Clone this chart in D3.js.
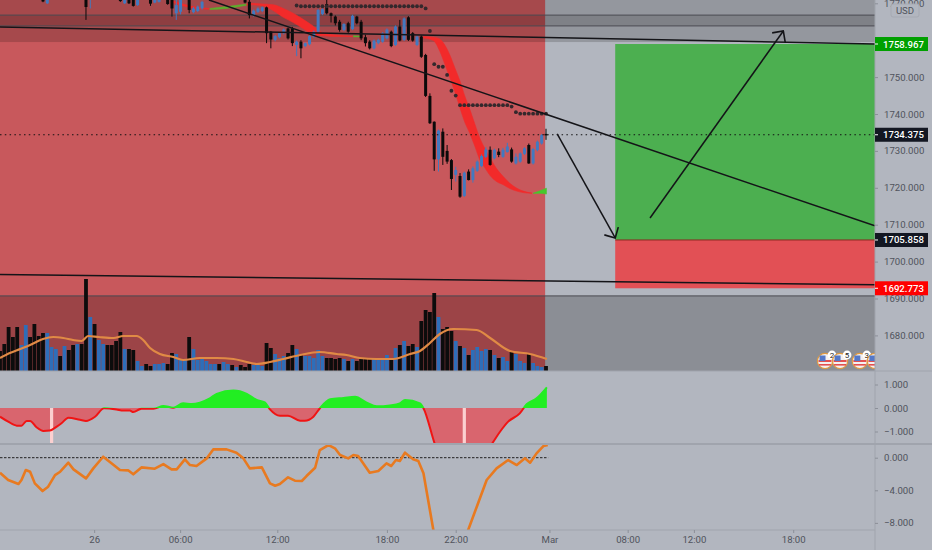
<!DOCTYPE html>
<html>
<head>
<meta charset="utf-8">
<script src="https://cdn.jsdelivr.net/npm/d3@7/dist/d3.min.js"></script>
<style>
    html, body { margin: 0; padding: 0; background: #b2b6bf; }
    svg { display: block; }
    text { font-family: Roboto, sans-serif; }
</style>
</head>
<body>
<svg width="932" height="550"></svg>
<script>
// bar direction, one letter per bar: d = black, u = blue
const barDirection = ("ddddduuddd" + "duuududdud" + "duduuddddu" + "dduudduuud" + "duuuduuuuu" +
    "uduududddu" + "uudduuuddu" + "duuuuudddd" + "ududdddu" + "uu" + "udududdudd" +
    "ddudddudud" + "uuuududuud" + "uuuduuud").split("");

const volume = [20,27,44,34,44,26,46,34,47,35, 38,38,24,22,15,25,21,26,27,27,
    92,54,47,31,27,26,26,30,39,22, 22,21,10,5,7,5,7,7,8,7,
    18,17,12,11,34,22,11,12,10,7, 7,7,9,7,6,4,6,4,7,6,
    6,5,28,23,17,13,15,18,26,22, 17,15,15,13,21,15,13,13,12,13,
    12,10,12,10,12,12,12,12,11,11, 16,12,23,26,30,25,27,24,50,61,
    59,78,54,42,44,40,30,25,23,16, 21,24,20,22,21,16,13,14,10,19,
    17,10,8,18,8,5,4,5];

const volumeMaIndex = [0,2.3,4.7,7,10,12.4,14.7,17,19,20.5,23,26.4,28.7,31.8,33.3,34.9,37.2,40.3,42.6,46.5,50.4,54.3,57.4,59.7,62.8,65.9,69.8,74.4,78.3,80.6,83.7,87.6,91.5,95.4,97.7,100,102.3,105.4,110.9,114,118.6,123.3,127.2];
const volumeMaValue = [13,18,22,26,32,34,33,31,30,35,34,33,35,35,31,23,17,14,11,13,13,12,9,7,9,12,16,19,17,16,13,12,12,17,20,28,37,42,41,33,20,17,12];

// candles that fall inside the visible price range
const candleIndex = [10,11,20,21,28,29,30,31,32,35,36,37,39,40,41,42,44,45,46,47,57,58].concat(d3.range(59, 128));
const candleTop = [1775,1775,1775,1775,1775,1775,1775,1775,1775,1775,1775,1775,1775,1775,1769.5,1775,1775,1768.6,1769.1,1770.4,1775,1770.4,
    1768,1768.6,1768.9,1768.9,1762.3,1761.1,1761.9,1762.9,1763.2,1763.2,
    1759.6,1759.6,1759.2,1761.1,1762.3,1768.2,1768.4,1769.8,1767.3,1766.4,
    1765,1764.4,1764.6,1766.6,1766.4,1765,1760.8,1759.6,1759.9,1760.1,
    1761.9,1762.9,1762.3,1763.7,1763.7,1765.9,1766.2,1761.9,1761,1761,
    1756,1744.9,1737.9,1735.5,1735.2,1730,1727.5,1724.8,1723.2,1724.1,
    1724.4,1725.3,1727.1,1728.6,1730.4,1730.3,1730.3,1729.8,1730.3,1731.2,
    1730.4,1728.4,1729.3,1730.7,1731.6,1730.5,1732.5,1734.3,1734.6];
const candleBottom = [1770.5,1770,1769,1772,1770.6,1770,1770,1769.3,1769.5,1769.9,1770.2,1770.4,1769.8,1768.6,1767.3,1767.7,1768.2,1767.6,1767.9,1768.6,1770.2,1766.8,
    1766.7,1767.7,1767.9,1761.9,1760.2,1760.1,1760.8,1761.9,1760.5,1759.2,
    1758.7,1757.8,1758.4,1758.9,1761,1762.3,1767.1,1767.3,1766.6,1764.6,
    1762.8,1762.8,1762.3,1763,1764.6,1760.5,1759.2,1757.8,1757.8,1759.2,
    1759.6,1760.5,1758.4,1758.7,1759.9,1760.1,1760.1,1759.9,1758.7,1755.5,
    1744.9,1737.5,1727.7,1727.7,1728.4,1727.1,1722.4,1723.5,1717.6,1717.8,
    1722.1,1722.1,1724.6,1725.9,1728.4,1726.2,1728,1728.9,1728.4,1729.7,
    1727.1,1726.6,1727.1,1729.2,1726.6,1726.6,1730.2,1732,1734.2];
const candleHigh = [1776,1776,1776,1776,1776,1776,1776,1776,1776,1776,1776,1776,1776,1776,1771,1776,1776,1769,1769.4,1770.7,1776,1771,
    1768.3,1768.9,1769.1,1769.1,1762.5,1761.4,1762.2,1763.2,1763.4,1763.6,
    1759.9,1760,1759.4,1761.3,1762.6,1768.5,1768.7,1771,1767.5,1766.7,
    1765.5,1764.6,1765,1766.9,1766.6,1765.5,1761.5,1760,1760.2,1760.4,
    1762.2,1763.2,1762.6,1764,1765.5,1766.2,1766.5,1762.2,1761.3,1761.3,
    1756.3,1745.6,1738,1735.8,1736.1,1731.6,1727.8,1725.7,1724,1724.4,
    1725,1725.8,1727.4,1729,1731,1731.2,1730.6,1730.7,1730.8,1732.2,
    1730.9,1729.3,1729.6,1731,1732,1730.8,1732.8,1734.6,1736];
const candleLow = [1770.3,1769.8,1765.5,1768.6,1770.4,1769.8,1769.8,1769.1,1769.3,1769.3,1770,1770.2,1769.6,1766.4,1765.5,1767,1767.3,1767.3,1767.6,1768.3,1770,1765.9,
    1766.4,1767.4,1767.6,1759.2,1757.8,1759.7,1760.5,1761.6,1760.2,1758.4,
    1755.7,1755.1,1758.1,1758.6,1760.7,1762,1766.8,1767,1764.8,1764,
    1762.3,1762.5,1762,1762.7,1764.3,1760,1758.3,1757.5,1757.5,1758.9,
    1759.3,1760.2,1758.1,1758.4,1759.7,1759.8,1759.8,1759.6,1758.4,1755.2,
    1744.6,1737.3,1724.6,1724.4,1726.2,1726.5,1719.4,1721.7,1717.3,1717.5,
    1722,1721.4,1724.3,1725.6,1728.1,1726,1727.7,1728.3,1728.1,1729.5,
    1726.8,1726.3,1726.8,1728.9,1726.5,1726.3,1729.9,1731.7,1733];

// moving average ribbon, each row is bar index, upper price, lower price
const ribbonRedA = [[40.3,1770.6,1770.2],[42.6,1769.8,1769.3],[45.7,1768.9,1768.6],[48.8,1768.6,1768.4]];
const ribbonGreenA = [[48.8,1768.6,1768.3],[52.7,1769.1,1768.6],[57.4,1769.8,1769.5]];
const ribbonRedB = [[57.4,1769.8,1769.5],[58.15,1770,1769.6],[61.25,1769.8,1769.3],[63.6,1769.6,1768],[65.9,1768.6,1766.2],[68.2,1767.3,1764.8],[70.6,1765.6,1763.1],[72.9,1763.8,1761.5],[75.2,1761.9,1761.2],[78.3,1761.4,1761],[82.2,1761.1,1761]];
const ribbonGreenB = [[82.2,1761.2,1760.9],[84,1761.1,1760.9]];
const ribbonRedC = [[98.5,1761,1760.6],[100.8,1760.8,1759.9],[102.3,1760.3,1757],[103.5,1758.6,1753.4],[104.7,1755.8,1749.6],[105.8,1752.5,1746],[107,1748.9,1741.6],[108.1,1744.9,1737.8],[109.3,1741.2,1734.7],[110.5,1737.1,1731.1],[111.6,1733.5,1727.6],[112.8,1730.6,1725.4],[114,1728.1,1723.3],[115.5,1725.2,1721.7],[117.1,1723,1720.8],[118.6,1721.2,1719.8],[120.2,1719.9,1719.1],[121.7,1719.1,1718.7],[123.7,1718.6,1718.5]];
const ribbonGreenC = [[124,1718.5,1718.5],[125.6,1719.2,1718.5],[127.1,1719.9,1718.3]];

// stop dots above price
const dotIndex = d3.range(69, 128);
const dotPrice = [1769.4,1769.2,1769.2,1769.2,1769.2,1769.2,1769.2,1769.2,1769.2,1769.2,1769.2,1769.2,1769.2,1769.2,1769.2,1769.2,1769.2,1769.2,1769.2,1769.2,1769.2,1769.2,1769.2,1769.2,1769.2,1769.2,1769.2,1769.2,1769.2,1769.2,
    1768.6,1762.5,1753.5,1752.8,1752.8,1750.6,1746.3,1745,
    1742.4,1742.4,1742.4,1742.4,1742.4,1742.4,1742.4,1742.4,1742.4,1742.4,1742.4,1742.4,
    1742,1740.5,1740.1,1740.1,1740.1,1740.1,1740.1,1740.1,1740.1];

// first oscillator
const oscIndex = [0,1.9,3.9,5,6.2,7,8.5,10.1,11.6,13.2,14.3,15.9,18.6,20,22.1,24.2,27.1,28.7,30.2,31,32.9,35.7,38,40.3,42.6,44.6,46.5,48.8,50.4,54.3,57.4,59.7,61.6,62.8,65.1,67,69.8,70.9,72.9,74.4,76.8,79.9,82.6,85.3,87.6,90.7,93,94.2,97.7,98.5,101.2,103,106,108,111,114.4,116.3,118.2,120.9,122.5,124.8,127.2];
const oscValue = [-.37,-.58,-.75,-.75,-.55,-.55,-.82,-.98,-.96,-.79,-.65,-.41,-.5,-.55,-.37,-.01,-.06,-.11,-.11,-.17,-.03,-.03,.09,.01,.2,.17,.23,.41,.6,.74,.6,.34,.24,-.06,-.33,-.33,-.54,-.54,-.37,-.01,.37,.43,.48,.23,.07,.11,.2,.34,.2,-.01,-1.57,-2.4,-2.8,-2.8,-2.4,-1.53,-1.01,-.58,-.23,.16,.41,.88];
const oscMarkerIndex = [12, 108];

// second oscillator
const momentumIndex = [0,1.9,4.3,5,6,7,8.1,9.9,11.2,12.8,14,15.9,17.1,20,21.7,24,26,27.9,29.8,31,32.9,36,38,39.9,41.1,43,44.2,45.7,48.1,49.6,52.7,55,56.6,58.1,60.9,62.8,64,65.1,67,68.6,70.2,71.3,73.3,74.4,76.4,77.9,79.1,81,82.2,83.3,86,88,89.9,91,92.1,93,94.2,96.1,97.3,98.5,100.8,103,105,107,108.9,110.9,113.2,115.5,118.2,120.2,122.1,123.3,124.8,126.4,127.4];
const momentumValue = [-1.84,-2.74,-3.23,-2.74,-1.51,-1.72,-3.15,-4.09,-3.56,-2.13,-1.72,-.61,-1.43,-2.54,-1.31,.12,-.7,-1.51,-1.55,-2.04,-1.19,-1.35,-.78,-1.43,-1.43,-.2,-.9,-1.02,-.08,1.02,1.02,.61,-.08,-1.31,-1.19,-3.15,-3.44,-3.23,-2.41,-2.82,-2.86,-2.25,-1.23,.94,1.55,1.15,.33,-.08,.33,.2,-1.84,-1.64,-.7,-1.02,-.29,-.41,.61,-.2,-.41,-1.92,-8.87,-12,-13,-12,-8.87,-6.01,-2.74,-1.31,-.29,-.9,-.08,-.61,.53,1.43,1.55];

// axis ticks
const priceTicks = [1770,1760,1750,1740,1730,1720,1710,1700,1690,1680];
const oscTicks = [1,0,-1];
const momentumTicks = [0,-4,-8];
const timeIndex = [21.9,41.9,64.5,90,106,127.8,146,161.4,184.5];
const timeLabels = ["26","06:00","12:00","18:00","22:00","Mar","08:00","12:00","18:00"];

// drawings on the chart, bar index and price
const lastPrice = 1734.375;
const targetPrice = 1758.967;
const entryPrice = 1705.858;
const stopPrice = 1692.773;
const trendLines = [[0,1763.6,203.5,1759],[0,1696.5,203.5,1693.7],[48.6,1770.9,203.5,1709.7]];
const arrows = [[151.2,1711.8,182.2,1762.5],[129.6,1734.6,143.1,1706.4]];
const levelLines = [1766.8,1763.9,1690.7];
const positionStart = 143.1;
const sessionEnd = 126.8;
const flagIndex = [191.9,195.4,200,203.5];
const flagCounts = ["2","5","3","6"];

const width = 932, chartRight = 875;
const mainTop = 0, mainBottom = 371, oscBottom = 444, momentumBottom = 530;

const svg = d3.select("svg");
const defs = svg.append("defs");

function addClip(id, x, y, w, h){
    defs.append("clipPath").attr("id", id).append("rect")
        .attr("x", x).attr("y", y).attr("width", w).attr("height", h);
}

const x = d3.scaleLinear().domain([0, 127]).range([0, 546]);
const xEnd = x.invert(chartRight);
const yPrice = d3.scaleLinear().domain([1740, 1680]).range([114, 335.4]);
const yVolume = d3.scaleLinear().domain([0, 100]).range([371, 271]);
const yOsc = d3.scaleLinear().domain([0, 1]).range([408, 384.5]);
const yMomentum = d3.scaleLinear().domain([0, -8]).range([457.7, 522.9]);

addClip("clipMain", 0, mainTop, chartRight, mainBottom - mainTop);
addClip("clipOsc", 0, mainBottom, chartRight, oscBottom - mainBottom);
addClip("clipOscUp", 0, mainBottom, chartRight, yOsc(0) - mainBottom);
addClip("clipOscDown", 0, yOsc(0), chartRight, oscBottom - yOsc(0));
addClip("clipMomentum", 0, oscBottom, chartRight, momentumBottom - oscBottom);

// backgrounds
svg.append("rect").attr("width", width).attr("height", 550).attr("fill", "#b2b6bf");

const main = svg.append("g").attr("clip-path", "url(#clipMain)");
main.append("rect")
    .attr("x", 0).attr("y", 0)
    .attr("width", x(sessionEnd)).attr("height", mainBottom)
    .attr("fill", "#c8585c");

// position box
main.append("rect")
    .attr("x", x(positionStart)).attr("y", yPrice(targetPrice))
    .attr("width", chartRight - x(positionStart)).attr("height", yPrice(entryPrice) - yPrice(targetPrice))
    .attr("fill", "#4caf50");
main.append("rect")
    .attr("x", x(positionStart)).attr("y", yPrice(entryPrice))
    .attr("width", chartRight - x(positionStart)).attr("height", yPrice(stopPrice) - yPrice(entryPrice))
    .attr("fill", "#e25055");
main.append("line")
    .attr("x1", x(positionStart)).attr("x2", chartRight)
    .attr("y1", yPrice(entryPrice)).attr("y2", yPrice(entryPrice))
    .attr("stroke", "#8a2a20").attr("stroke-width", 1);

// darker zones top and bottom
main.append("rect").attr("x", 0).attr("y", 0).attr("width", chartRight)
    .attr("height", yPrice(1759.5)).attr("fill", "#000").attr("fill-opacity", 0.17);
main.append("rect").attr("x", 0).attr("y", yPrice(levelLines[0])).attr("width", chartRight)
    .attr("height", yPrice(levelLines[1]) - yPrice(levelLines[0])).attr("fill", "#000").attr("fill-opacity", 0.14);
main.append("rect").attr("x", 0).attr("y", yPrice(levelLines[2])).attr("width", chartRight)
    .attr("height", mainBottom - yPrice(levelLines[2])).attr("fill", "#000").attr("fill-opacity", 0.22);

main.selectAll(".level").data(levelLines).enter().append("line")
    .attr("class", "level")
    .attr("x1", 0).attr("x2", chartRight)
    .attr("y1", d => yPrice(d)).attr("y2", d => yPrice(d))
    .attr("stroke", "#4a4a50").attr("stroke-width", 1.2).attr("stroke-opacity", 0.8);

// volume
const volumeColor = d => d == "u" ? "#2e6eb9" : "#0c0c0c";
main.selectAll(".vol").data(volume).enter().append("rect")
    .attr("class", "vol")
    .attr("x", (d, i) => x(i) - 1.9)
    .attr("y", d => yVolume(d))
    .attr("width", 3.8)
    .attr("height", d => yVolume(0) - yVolume(d))
    .attr("fill", (d, i) => volumeColor(barDirection[i]));

const maLine = d3.line().x(d => x(d[0])).y(d => yVolume(d[1])).curve(d3.curveMonotoneX);
main.append("path")
    .attr("d", maLine(d3.zip(volumeMaIndex, volumeMaValue)))
    .attr("fill", "none").attr("stroke", "#e08a45").attr("stroke-width", 2.2);

// ribbon
const ribbon = d3.area()
    .x(d => x(d[0])).y0(d => yPrice(d[2])).y1(d => yPrice(d[1]))
    .curve(d3.curveMonotoneX);
[[ribbonRedA, "#f22a2a"], [ribbonGreenA, "#5caf2c"], [ribbonRedB, "#f22a2a"],
 [ribbonGreenB, "#5caf2c"], [ribbonRedC, "#f22a2a"], [ribbonGreenC, "#46c82c"]].forEach(r => {
    main.append("path").attr("d", ribbon(r[0])).attr("fill", r[1])
        .attr("stroke", r[1]).attr("stroke-width", 0.6);
});

// candles
const candles = main.append("g");
const candleColor = i => barDirection[candleIndex[i]] == "u" ? "#4379bf" : "#0a0a0a";
candles.selectAll("line").data(candleIndex).enter().append("line")
    .attr("x1", d => x(d)).attr("x2", d => x(d))
    .attr("y1", (d, i) => yPrice(candleHigh[i]))
    .attr("y2", (d, i) => yPrice(candleLow[i]))
    .attr("stroke", (d, i) => candleColor(i)).attr("stroke-width", 1);
candles.selectAll("rect").data(candleIndex).enter().append("rect")
    .attr("x", d => x(d) - 1.5)
    .attr("y", (d, i) => yPrice(candleTop[i]))
    .attr("width", 3)
    .attr("height", (d, i) => yPrice(candleBottom[i]) - yPrice(candleTop[i]))
    .attr("fill", (d, i) => candleColor(i));

// stop dots
main.selectAll(".dot").data(dotIndex).enter().append("circle")
    .attr("class", "dot")
    .attr("cx", d => x(d))
    .attr("cy", (d, i) => yPrice(dotPrice[i]))
    .attr("r", 1.9)
    .attr("fill", "#33282c");

// hand drawn lines
main.selectAll(".trend").data(trendLines).enter().append("line")
    .attr("class", "trend")
    .attr("x1", d => x(d[0])).attr("y1", d => yPrice(d[1]))
    .attr("x2", d => x(d[2])).attr("y2", d => yPrice(d[3]))
    .attr("stroke", "#141418").attr("stroke-width", 1.5);

// last price dotted line
main.append("line")
    .attr("x1", 0).attr("x2", chartRight)
    .attr("y1", yPrice(lastPrice)).attr("y2", yPrice(lastPrice))
    .attr("stroke", "#111").attr("stroke-width", 1.2).attr("stroke-dasharray", "1.5 3.3");

defs.append("marker").attr("id", "arrowHead")
    .attr("viewBox", "-11 -10 12 20").attr("refX", 0).attr("refY", 0)
    .attr("markerWidth", 12).attr("markerHeight", 20)
    .attr("markerUnits", "userSpaceOnUse").attr("orient", "auto")
    .append("path").attr("d", "M-8,-8L0,0L-8,8")
    .attr("fill", "none").attr("stroke", "#141418").attr("stroke-width", 1.6);

main.selectAll(".arrow").data(arrows).enter().append("line")
    .attr("class", "arrow")
    .attr("x1", d => x(d[0])).attr("y1", d => yPrice(d[1]))
    .attr("x2", d => x(d[2])).attr("y2", d => yPrice(d[3]))
    .attr("stroke", "#141418").attr("stroke-width", 1.5)
    .attr("marker-end", "url(#arrowHead)");

// event flags
const flags = main.selectAll(".flag").data(flagIndex).enter().append("g")
    .attr("class", "flag")
    .attr("transform", d => "translate(" + x(d) + ",361)");
flags.append("circle").attr("r", 7.6).attr("fill", "#f4f0f0")
    .attr("stroke", "#e09a40").attr("stroke-width", 1.2);
flags.append("rect").attr("x", -6.5).attr("y", -1).attr("width", 13).attr("height", 2).attr("fill", "#e25050");
flags.append("rect").attr("x", -6).attr("y", 3).attr("width", 12).attr("height", 1.6).attr("fill", "#e25050");
flags.append("rect").attr("x", -5.5).attr("y", -5.5).attr("width", 6).attr("height", 5.5).attr("fill", "#5478c8");
flags.append("circle").attr("cx", 7).attr("cy", -6).attr("r", 4.4).attr("fill", "#fff");
flags.append("text").attr("x", 7).attr("y", -2.8)
    .attr("text-anchor", "middle").attr("font-size", 8).attr("fill", "#222")
    .text((d, i) => flagCounts[i]);

// first oscillator pane
const oscData = d3.zip(oscIndex, oscValue);
const oscArea = d3.area().x(d => x(d[0])).y0(yOsc(0)).y1(d => yOsc(d[1])).curve(d3.curveMonotoneX);
const oscLine = d3.line().x(d => x(d[0])).y(d => yOsc(d[1])).curve(d3.curveMonotoneX);
const oscDown = svg.append("g").attr("clip-path", "url(#clipOscDown)");
oscDown.append("path").attr("d", oscArea(oscData)).attr("fill", "#d9656e");
oscDown.selectAll("rect").data(oscMarkerIndex).enter().append("rect")
    .attr("x", d => x(d) - 1.6).attr("y", yOsc(0))
    .attr("width", 3.2).attr("height", oscBottom - yOsc(0))
    .attr("fill", "#fbd0d0");
oscDown.append("path").attr("d", oscLine(oscData))
    .attr("fill", "none").attr("stroke", "#f01414").attr("stroke-width", 2);
const oscUp = svg.append("g").attr("clip-path", "url(#clipOscUp)");
oscUp.append("path").attr("d", oscArea(oscData)).attr("fill", "#22ee22");
oscUp.append("path").attr("d", oscLine(oscData))
    .attr("fill", "none").attr("stroke", "#22ee22").attr("stroke-width", 2);

// second oscillator pane
const momentumLine = d3.line().x(d => x(d[0])).y(d => yMomentum(d[1]));
const momentumPane = svg.append("g").attr("clip-path", "url(#clipMomentum)");
momentumPane.append("line")
    .attr("x1", 0).attr("x2", x(sessionEnd) + 3)
    .attr("y1", yMomentum(0)).attr("y2", yMomentum(0))
    .attr("stroke", "#202020").attr("stroke-width", 1).attr("stroke-dasharray", "2.5 1.5");
momentumPane.append("path")
    .attr("d", momentumLine(d3.zip(momentumIndex, momentumValue)))
    .attr("fill", "none").attr("stroke", "#e87a20").attr("stroke-width", 2.6)
    .attr("stroke-linejoin", "round");

// pane separators
svg.append("line").attr("x1", 0).attr("x2", width).attr("y1", mainBottom).attr("y2", mainBottom)
    .attr("stroke", "#a0a4ad").attr("stroke-width", 1);
svg.append("line").attr("x1", 0).attr("x2", width).attr("y1", oscBottom).attr("y2", oscBottom)
    .attr("stroke", "#a0a4ad").attr("stroke-width", 2);
svg.append("line").attr("x1", 0).attr("x2", chartRight).attr("y1", momentumBottom).attr("y2", momentumBottom)
    .attr("stroke", "#a0a4ad").attr("stroke-width", 1.2);
svg.append("line").attr("x1", chartRight).attr("x2", chartRight).attr("y1", 0).attr("y2", 550)
    .attr("stroke", "#a0a4ad").attr("stroke-width", 1);

// axes
function styleAxis(g){
    g.select(".domain").remove();
    g.selectAll("line").attr("stroke", "#8c9099");
    g.selectAll("text").attr("fill", "#50535c").attr("font-size", 9.6).attr("font-family", "Roboto, sans-serif");
}
svg.append("g").attr("transform", "translate(" + chartRight + ",0)")
    .call(d3.axisRight(yPrice).tickValues(priceTicks).tickFormat(d3.format(".3f")).tickSize(3).tickPadding(6))
    .call(styleAxis);
svg.append("g").attr("transform", "translate(" + chartRight + ",0)")
    .call(d3.axisRight(yOsc).tickValues(oscTicks).tickFormat(d3.format(".3f")).tickSize(3).tickPadding(6))
    .call(styleAxis);
svg.append("g").attr("transform", "translate(" + chartRight + ",0)")
    .call(d3.axisRight(yMomentum).tickValues(momentumTicks).tickFormat(d3.format(".3f")).tickSize(3).tickPadding(6))
    .call(styleAxis);
svg.append("g").attr("transform", "translate(0," + momentumBottom + ")")
    .call(d3.axisBottom(x).tickValues(timeIndex).tickFormat((d, i) => timeLabels[i]).tickSize(3).tickPadding(3))
    .call(styleAxis);

// price labels
[[targetPrice, "#00a000"], [entryPrice, "#131722"], [stopPrice, "#ff0000"], [lastPrice, "#131722"]].forEach(p => {
    let g = svg.append("g").attr("transform", "translate(" + chartRight + "," + yPrice(p[0]) + ")");
    g.append("rect").attr("x", 0).attr("y", -7).attr("width", 53).attr("height", 14).attr("fill", p[1]);
    g.append("line").attr("x1", 0).attr("x2", 3).attr("stroke", "#fff");
    g.append("text").attr("x", 8).attr("y", 3.5)
        .attr("font-size", 9.6).attr("font-weight", 500).attr("fill", "#fff")
        .text(d3.format(".3f")(p[0]));
});

// currency badge
svg.append("rect").attr("x", 891).attr("y", 4).attr("width", 28).attr("height", 13).attr("rx", 2)
    .attr("fill", "#b2b6bf").attr("stroke", "#a6aab3");
svg.append("text").attr("x", 905).attr("y", 13.8).attr("text-anchor", "middle")
    .attr("font-size", 9.6).attr("fill", "#50535c").text("USD");
</script>
</body>
</html>
